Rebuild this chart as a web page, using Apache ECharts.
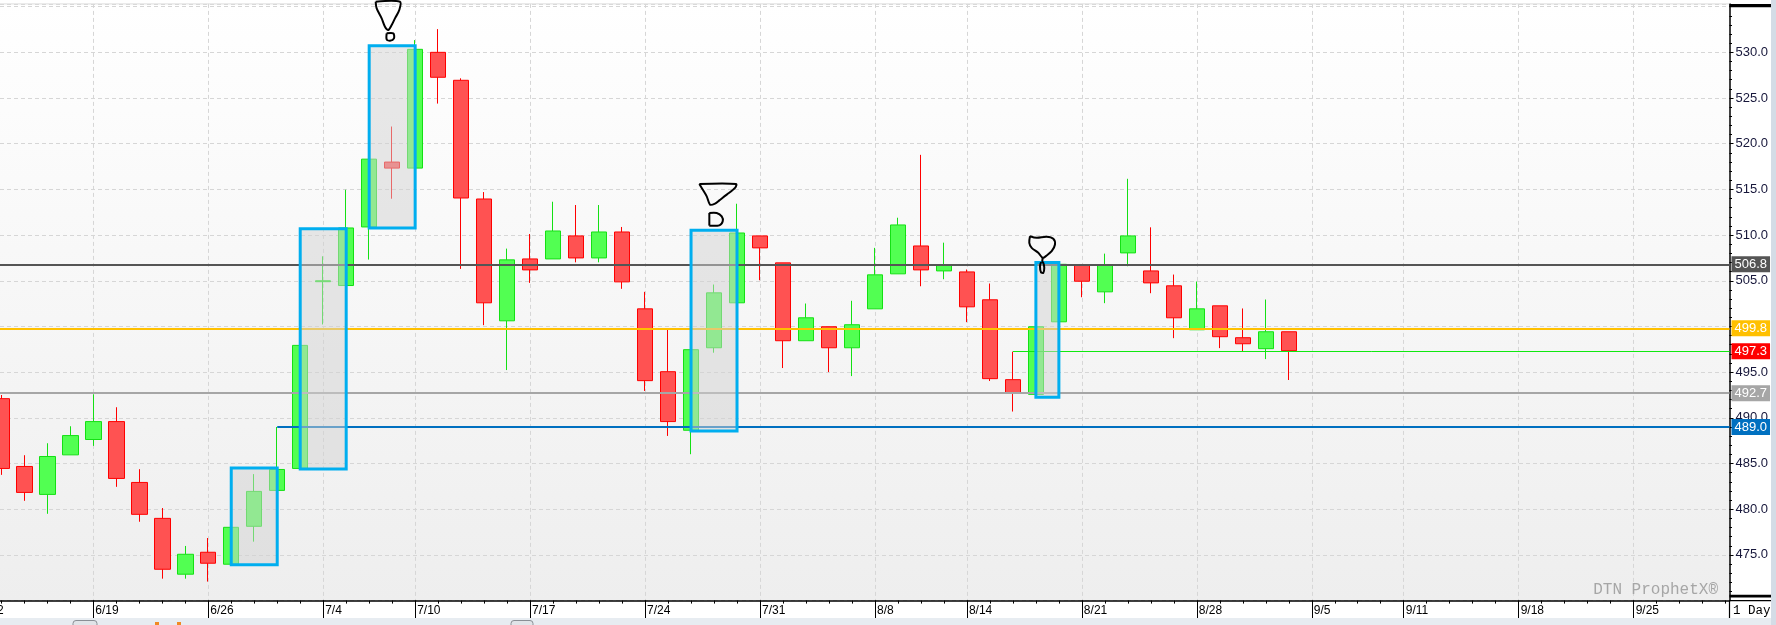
<!DOCTYPE html>
<html><head><meta charset="utf-8">
<script src="https://cdn.jsdelivr.net/npm/echarts@6/dist/echarts.min.js"></script>
<style>html,body{margin:0;padding:0;background:#fff;}#c{width:1776px;height:625px;}</style>
</head><body><div id="c"></div>
<script>
// ---------------- DATA ----------------
const DATES = ['6/12','6/13','6/14','6/15','6/16','6/19','6/20','6/21','6/22','6/23',
  '6/26','6/27','6/28','6/29','6/30','7/4','7/5','7/6','7/7','7/10','7/11','7/12','7/13','7/14',
  '7/17','7/18','7/19','7/20','7/21','7/24','7/25','7/26','7/27','7/28','7/31','8/1','8/2','8/3','8/4',
  '8/8','8/9','8/10','8/11','8/14','8/15','8/16','8/17','8/18','8/21','8/22','8/23','8/24','8/25',
  '8/28','8/29','8/30','8/31','9/1','9/5','9/6','9/7','9/8','9/11','9/12','9/13','9/14','9/15',
  '9/18','9/19','9/20','9/21','9/22','9/25','9/26','9/27','9/28','9/29'];
const TICK_LABELS = ['6/12','6/19','6/26','7/4','7/10','7/17','7/24','7/31','8/8','8/14','8/21','8/28','9/5','9/11','9/18','9/25'];
const FIRST_BAR = '6/13';
const OPEN  = [492.1,484.68,481.62,485.95,487.63,489.59,482.93,479.0,472.89,475.29,473.98,478.13,482.06,484.46,504.9,504.48,510.89,517.99,517.33,530.0,526.94,513.95,500.62,507.39,507.39,509.91,507.5,510.34,501.93,495.05,488.64,497.67,502.59,509.91,506.96,498.44,499.97,497.67,501.93,505.76,508.81,506.08,505.97,502.92,494.18,492.57,500.51,506.7,503.79,508.05,506.08,504.45,499.64,502.26,498.77,497.57,499.42];
const CLOSE = [484.46,481.84,485.77,488.06,489.59,483.37,479.44,473.43,475.07,474.09,478.02,481.95,484.35,497.93,505.0,510.78,518.31,517.33,530.33,527.27,514.06,502.59,507.29,506.19,510.45,507.5,510.34,504.88,494.07,489.59,497.46,503.68,510.23,508.6,498.44,500.95,497.67,500.19,505.65,511.11,506.19,506.74,502.15,494.29,492.76,499.97,506.8,504.95,506.7,509.91,504.77,500.95,501.93,498.88,498.11,499.42,497.35];
const LOW   = [483.76,480.92,479.5,485.95,486.93,482.45,478.63,472.4,472.4,472.08,473.98,476.45,482.06,484.46,500.22,504.48,507.32,513.98,517.33,524.39,506.3,500.14,495.23,504.77,507.39,507.02,507.02,504.12,492.94,488.02,486.02,497.13,502.59,505.06,495.45,498.44,495.01,494.57,501.93,505.76,504.4,505.17,500.47,494.03,490.69,492.57,500.51,503.2,502.55,506.59,503.64,498.72,499.64,497.63,497.3,496.43,494.14];
const HIGH  = [492.5,485.91,487.22,489.08,492.58,491.16,484.38,480.13,475.98,476.85,478.02,483.84,489.0,497.93,507.68,514.96,518.31,521.88,531.34,532.54,527.16,514.71,508.52,510.12,513.65,513.29,513.29,510.89,503.79,499.71,497.46,504.59,513.43,509.91,506.96,502.51,499.97,502.81,508.6,511.9,518.78,509.17,506.23,504.7,497.24,499.97,506.8,506.7,507.97,516.16,510.85,505.68,504.92,502.26,501.97,502.95,499.42];
const LEVEL_VALUES = [506.8, 499.8, 492.7, 489.0, 497.3];
const LEVEL_FROM   = [null, null, null, '6/29', '8/16'];
const BOX_FROM = ['6/27','6/30','7/6','7/26','8/17'];
const BOX_TO   = ['6/29','7/5','7/10','7/28','8/18'];
const BOX_HIGH = [484.5, 510.7, 530.72, 510.52, 507.0];
const BOX_LOW  = [473.93, 484.4, 510.78, 488.57, 492.25];

// ---------------- LAYOUT / STYLE ----------------
const W = 1776;
const STEP = 22.99, X0 = 1.34, AXIS_X = 1729.5;
const TOP = 3.9, PLOT_H = 596.7;
const Y_MIN = 470, Y_MAX = 535.3;
const LEVEL_COLORS = ['#555555', '#FFC000', '#A6A6A6', '#0070C0', '#10E810'];
const LEVEL_LABEL_BG = ['#555555', '#FFC000', '#A6A6A6', '#0070C0', '#FF0000'];
const LEVEL_WIDTH = [2, 2, 2, 2, 1];

const firstIdx = DATES.indexOf(FIRST_BAR);
const X_MIN = firstIdx - X0 / STEP;
const X_MAX = firstIdx + (AXIS_X - X0) / STEP;
const CAT_LEFT = X0 - firstIdx * STEP;
const CAT_RIGHT = CAT_LEFT + (DATES.length - 1) * STEP;

const candles = OPEN.map((o, j) => [firstIdx + j, o, CLOSE[j], LOW[j], HIGH[j]]);
const isLabel = (idx, val) => TICK_LABELS.indexOf(val) >= 0;

const levelData = LEVEL_VALUES.map((v, i) => {
  const style = {
    lineStyle: {color: LEVEL_COLORS[i], width: LEVEL_WIDTH[i], type: 'solid'},
    label: {show: true, position: 'end', distance: 2, formatter: v.toFixed(1), color: '#fff',
      backgroundColor: LEVEL_LABEL_BG[i], padding: [2, 3, 1, 3], fontFamily: 'Liberation Sans', fontSize: 13}
  };
  if (LEVEL_FROM[i] == null) return Object.assign({yAxis: v}, style);
  return [Object.assign({coord: [DATES.indexOf(LEVEL_FROM[i]), v]}, style), {coord: [X_MAX, v]}];
});
const boxData = BOX_FROM.map((f, i) => [
  {coord: [DATES.indexOf(f), BOX_HIGH[i]]},
  {coord: [DATES.indexOf(BOX_TO[i]), BOX_LOW[i]]}
]);

const chart = echarts.init(document.getElementById('c'), null, {renderer: 'canvas'});
const option = {
  animation: false,
  backgroundColor: '#ffffff',
  grid: [
    {left: 0, right: W - AXIS_X, top: TOP, height: PLOT_H, show: true, borderWidth: 0,
     containLabel: false, outerBoundsMode: 'none',
     backgroundColor: {type: 'linear', x: 0, y: 0, x2: 0, y2: 1,
       colorStops: [{offset: 0, color: '#ffffff'}, {offset: 1, color: '#eeeeee'}]}},
    {left: CAT_LEFT, right: W - CAT_RIGHT, top: TOP, height: PLOT_H, show: false,
     containLabel: false, outerBoundsMode: 'none'}
  ],
  xAxis: [
    {type: 'value', gridIndex: 0, min: X_MIN, max: X_MAX,
     axisLine: {show: true, onZero: false, lineStyle: {color: '#000', width: 1.5}},
     axisTick: {show: false}, axisLabel: {show: false}, splitLine: {show: false}},
    {type: 'category', gridIndex: 1, data: DATES, boundaryGap: false, position: 'bottom',
     axisLine: {show: false, onZero: false},
     axisTick: {show: true, interval: 0, length: 3, lineStyle: {color: '#000', width: 1}},
     axisLabel: {show: false}, splitLine: {show: false}},
    {type: 'category', gridIndex: 1, data: DATES, boundaryGap: false, position: 'bottom',
     axisLine: {show: false, onZero: false},
     axisTick: {show: true, interval: isLabel, length: 17.5, lineStyle: {color: '#000', width: 1}},
     axisLabel: {show: true, interval: isLabel, align: 'left', margin: 4, padding: [0, 0, 0, 2],
       color: '#000', fontFamily: 'Liberation Sans', fontSize: 12},
     splitLine: {show: true, interval: isLabel, lineStyle: {color: '#d6d6d6', width: 1, type: [4, 3]}}}
  ],
  yAxis: [
    {type: 'value', gridIndex: 0, position: 'right', min: Y_MIN, max: Y_MAX, interval: 5,
     axisLine: {show: true, lineStyle: {color: '#000', width: 1.5}},
     axisTick: {show: true, length: 4, lineStyle: {color: '#000', width: 1}},
     minorTick: {show: true, splitNumber: 5, length: 2.5, lineStyle: {color: '#000', width: 1}},
     axisLabel: {margin: 6, color: '#16163a', fontFamily: 'Liberation Sans', fontSize: 13,
       formatter: v => (v > Y_MIN + 1 && v < Y_MAX - 1) ? v.toFixed(1) : ''},
     splitLine: {show: true, lineStyle: {color: '#d6d6d6', width: 1, type: [4, 3]}},
     minorSplitLine: {show: false}},
    {type: 'value', gridIndex: 1, min: 0, max: 1, show: false}
  ],
  series: [
    {type: 'candlestick', xAxisIndex: 0, yAxisIndex: 0, data: candles, barWidth: 16, z: 2,
     itemStyle: {color: '#52ff52', color0: '#ff5252', borderColor: '#14e014', borderColor0: '#ff0000', borderWidth: 1}},
    {type: 'line', xAxisIndex: 0, yAxisIndex: 0, data: [], z: 3, silent: true,
     markLine: {silent: true, z: 5, symbol: ['none', 'none'], animation: false, data: levelData}},
    {type: 'line', xAxisIndex: 0, yAxisIndex: 0, data: [], z: 4, silent: true,
     markArea: {silent: true, z: 8, animation: false,
       itemStyle: {color: 'rgba(210,210,210,0.5)', borderColor: '#00AEEF', borderWidth: 3},
       data: boxData}}
  ]
};
chart.setOption(option);

// --------- frame decorations and hand-drawn annotations ---------
const SCRIBBLES = [
  {box: 2, paths: [
    [[-16.5,-44],[7.8,-44],[7.1,-35.7],[2.8,-27.4],[-0.5,-20.7],[-3.9,-15.7],[-7.2,-19],[-10.5,-27.4],[-15.5,-37.4],[-16.5,-44]],
    [[-5.5,-12.4],[1.1,-12.4],[1.8,-7.4],[-2.2,-5],[-5.5,-6.4],[-5.5,-12.4]]]},
  {box: 3, paths: [
    [[-14.7,-46.4],[22,-46.4],[21,-42.4],[12.7,-35.7],[5.3,-30],[1,-26.7],[-4,-25.7],[-7.3,-34],[-12.3,-42.4],[-14.7,-46.4]],
    [[-4.7,-17.4],[-4.7,-4.7]],
    [[-4.7,-17.4],[2.7,-17.4],[7.7,-14],[8.7,-9],[5.3,-5],[-4.7,-4.7]]]},
  {box: 4, paths: [
    [[-17.4,-26.3],[-10.7,-24.7],[-0.7,-25.7],[5.9,-23.7],[7.6,-18],[4.3,-11.3],[-0.7,-7],[-4.7,-4.7],[-9.1,-9.7],[-15.7,-14.7],[-18.1,-19.7],[-17.4,-26.3]],
    [[-4.7,-4.7],[-5.2,-0.8]],
    [[-5.7,-0.7],[-4.1,0.3],[-3.1,5.3],[-4.1,10.3],[-6.4,9.7],[-7.4,3.7],[-6.4,-0.3]]]}
];
const graphics = [
  {type: 'rect', z: 1, shape: {x: 1771, y: 0, width: 5, height: 625}, style: {fill: '#d4dce6'}},
  {type: 'rect', z: 1, shape: {x: 0, y: 618, width: 1771, height: 7}, style: {fill: '#e7ecf1'}},
  {type: 'rect', z: 1, shape: {x: 73, y: 620.5, width: 24, height: 8, r: 3}, style: {fill: '#e0e4e8', stroke: '#8a8f95', lineWidth: 1}},
  {type: 'rect', z: 1, shape: {x: 511, y: 620.5, width: 22, height: 8, r: 3}, style: {fill: '#e0e4e8', stroke: '#8a8f95', lineWidth: 1}},
  {type: 'rect', z: 1, shape: {x: 155, y: 622, width: 4, height: 3}, style: {fill: '#f08a24'}},
  {type: 'rect', z: 1, shape: {x: 177, y: 622, width: 4, height: 3}, style: {fill: '#f08a24'}},
  {type: 'line', z: 1, shape: {x1: 0, y1: TOP, x2: AXIS_X, y2: TOP}, style: {stroke: '#dedede', lineWidth: 1}},
  {type: 'rect', z: 5, shape: {x: AXIS_X, y: 4, width: 1771 - AXIS_X, height: 3.3}, style: {fill: '#000'}},
  {type: 'rect', z: 5, shape: {x: AXIS_X, y: 594.8, width: 1771 - AXIS_X, height: 2.8}, style: {fill: '#000'}},
  {type: 'line', z: 5, shape: {x1: AXIS_X, y1: TOP + PLOT_H, x2: 1771, y2: TOP + PLOT_H}, style: {stroke: '#000', lineWidth: 1.2}},
  {type: 'line', z: 5, shape: {x1: AXIS_X, y1: TOP + PLOT_H, x2: AXIS_X, y2: 618}, style: {stroke: '#000', lineWidth: 1.2}},
  {type: 'text', z: 5, style: {x: 1733, y: 610.5, text: '1 Day', fill: '#000', font: '12.5px "Liberation Mono", monospace', textVerticalAlign: 'middle', textAlign: 'left'}},
  {type: 'text', z: 1, style: {x: 1718, y: 590, text: 'DTN ProphetX®', fill: '#a6a6a6', font: '16px "Liberation Mono", monospace', textVerticalAlign: 'middle', textAlign: 'right'}}
];
SCRIBBLES.forEach(s => {
  const i = s.box;
  const cx = (DATES.indexOf(BOX_FROM[i]) + DATES.indexOf(BOX_TO[i])) / 2;
  const p = chart.convertToPixel({gridIndex: 0}, [cx, BOX_HIGH[i]]);
  s.paths.forEach(path => {
    graphics.push({type: 'polyline', z: 10, shape: {points: path.map(q => [p[0] + q[0], p[1] + q[1]]), smooth: 0.3},
      style: {stroke: '#000', lineWidth: 2, fill: null}});
  });
});
chart.setOption({graphic: graphics});
</script>
</body></html>
